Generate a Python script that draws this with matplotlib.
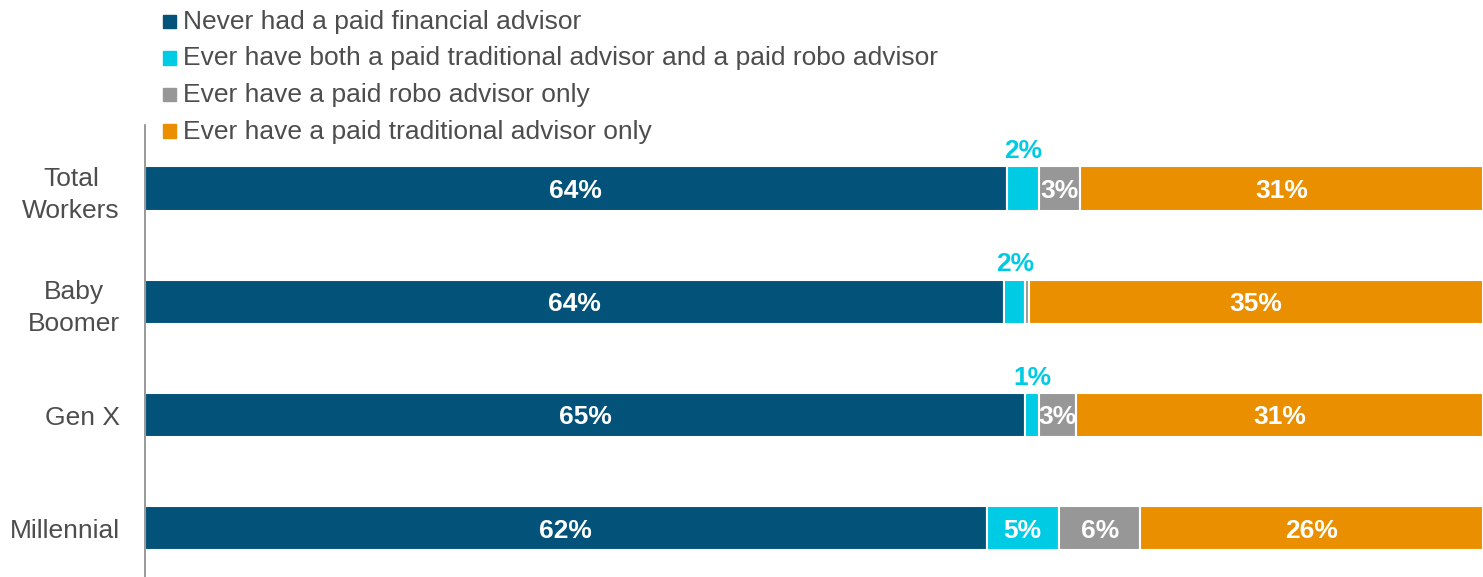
import numpy as np
import matplotlib.pyplot as plt
from matplotlib.patches import Rectangle

plt.rcParams['font.family'] = ['Liberation Sans', 'DejaVu Sans']

groups = ['Total\nWorkers', 'Baby\nBoomer', 'Gen X', 'Millennial']
series = ['Never had a paid financial advisor',
          'Ever have both a paid traditional advisor and a paid robo advisor',
          'Ever have a paid robo advisor only',
          'Ever have a paid traditional advisor only']
colors = ['#02527a', '#00cbe4', '#979797', '#ea9000']

# bar widths (percent)
never = [64.4, 64.2, 65.8, 62.9]
both = [2.4, 1.6, 1.0, 5.4]
robo = [3.1, 0.3, 2.8, 6.1]
trad = [30.1, 33.9, 30.4, 25.6]

# printed labels
never_lbl = ['64%', '64%', '65%', '62%']
both_lbl = ['2%', '2%', '1%', '5%']
robo_lbl = ['3%', '', '3%', '6%']
trad_lbl = ['31%', '35%', '31%', '26%']

fig = plt.figure(figsize=(14.83, 5.77), dpi=100)
ax = fig.add_axes([145 / 1483, 0, 1 - 145 / 1483, (577 - 125) / 577])

y = np.arange(len(groups))
data = [never, both, robo, trad]
labels = [never_lbl, both_lbl, robo_lbl, trad_lbl]
left = np.zeros(len(groups))
for vals, lbls, c in zip(data, labels, colors):
    vals = np.array(vals)
    ax.barh(y, vals, left=left, height=0.39, color=c, edgecolor='white', linewidth=1.5)
    for i, (v, l) in enumerate(zip(vals, lbls)):
        if not l:
            continue
        cx = left[i] + v / 2
        if c == colors[1] and v < 3:
            ax.text(cx, y[i] - 0.33, l, ha='center', va='center', color=c,
                    fontsize=19, fontweight='bold')
        else:
            ax.text(cx, y[i] + 0.02, l, ha='center', va='center', color='white',
                    fontsize=19, fontweight='bold')
    left += vals

ax.set_xlim(0, 100)
ax.set_ylim(3.43, -0.56)
ax.set_yticks(y)
ax.set_yticklabels(groups, fontsize=19, color='#4d4d4d', linespacing=1.4,
                   multialignment='center')
ax.tick_params(axis='y', length=0, pad=18)
ax.set_xticks([])
for s in ['top', 'right', 'bottom']:
    ax.spines[s].set_visible(False)
ax.spines['left'].set_color('#888888')
ax.spines['left'].set_linewidth(1.2)

# legend drawn by hand
for k, (name, c) in enumerate(zip(series, colors)):
    yy = 1 - (22 + 36.5 * k) / 577
    fig.patches.append(Rectangle((163 / 1483, yy - 6 / 577), 13 / 1483, 13 / 577,
                                 transform=fig.transFigure, color=c))
    fig.text(183 / 1483, yy, name, fontsize=19, color='#4d4d4d', va='center')

fig.savefig('out.png', dpi=100)
